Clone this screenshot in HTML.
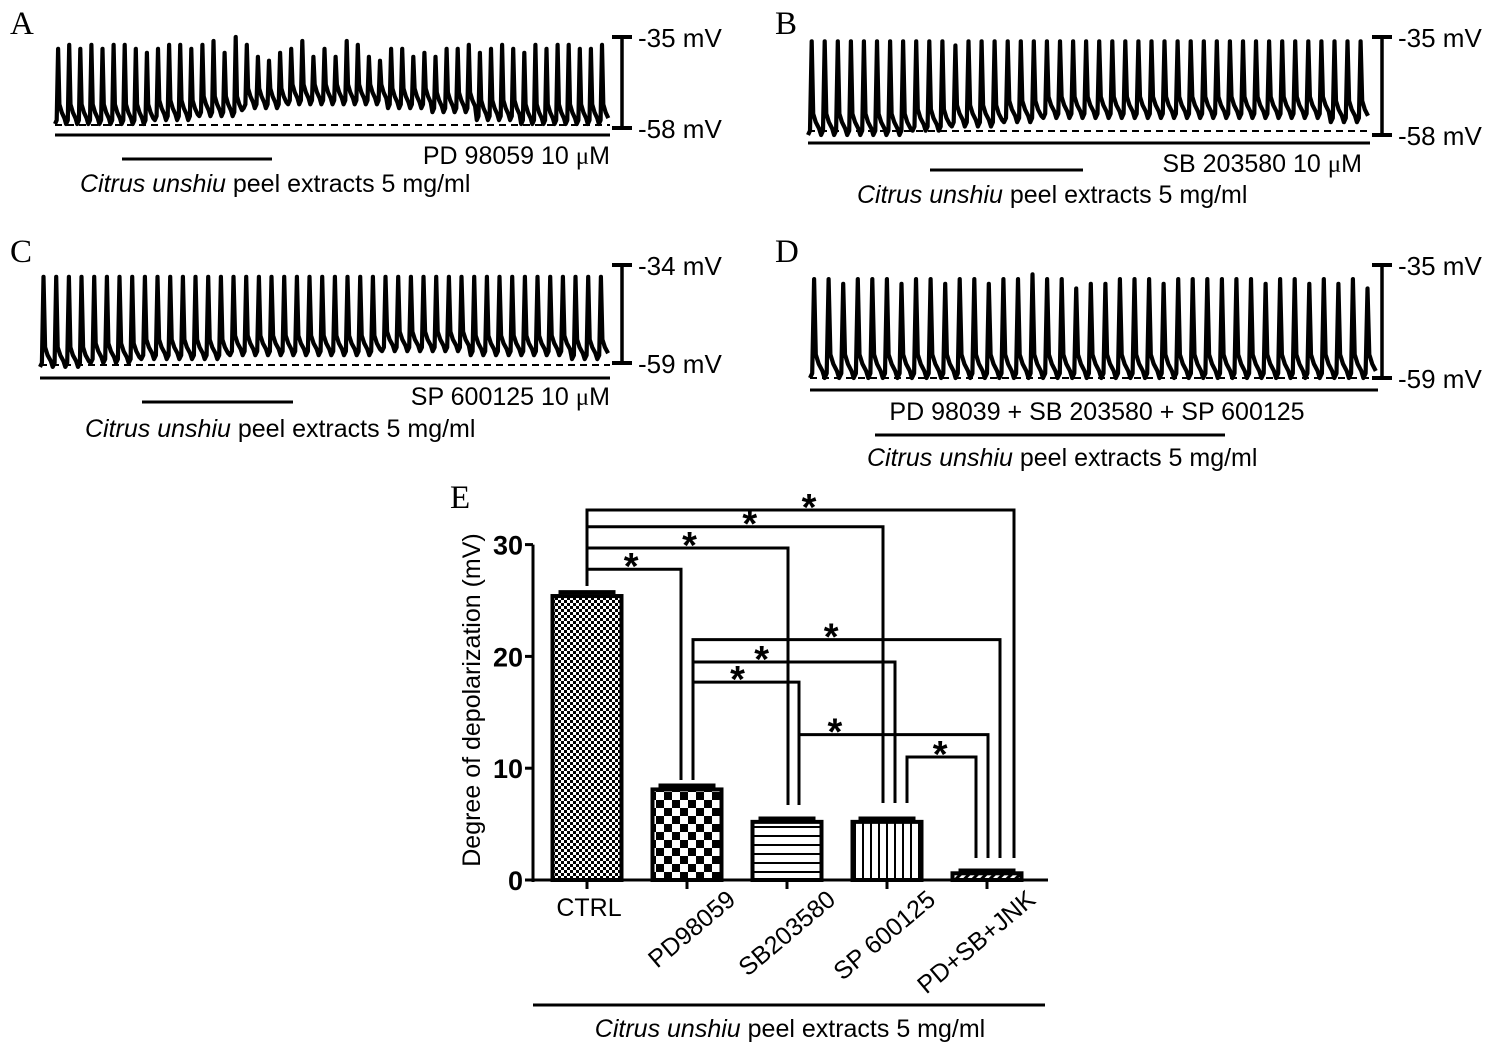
<!DOCTYPE html>
<html><head><meta charset="utf-8"><style>
body{margin:0;background:#fff}
svg{display:block;font-family:"Liberation Sans",Arial,sans-serif}
.lbl{font-size:25px;fill:#000}
.ml{font-size:26px;fill:#000}
.pl{font-family:"Liberation Serif",serif;font-size:33px;fill:#000}
</style></head><body>
<svg id="fig" width="1494" height="1047" viewBox="0 0 1494 1047">
<defs>
<pattern id="pCtrl" width="6" height="6" patternUnits="userSpaceOnUse"><rect width="6" height="6" fill="#fff"/><rect width="3" height="3" fill="#000"/><rect x="3" y="3" width="3" height="3" fill="#000"/></pattern>
<pattern id="pPD" width="16" height="16" patternUnits="userSpaceOnUse"><rect width="16" height="16" fill="#fff"/><rect width="8" height="8" fill="#000"/><rect x="8" y="8" width="8" height="8" fill="#000"/></pattern>
<pattern id="pSB" width="8" height="9" patternUnits="userSpaceOnUse"><rect width="8" height="9" fill="#fff"/><rect y="7" width="8" height="2" fill="#000"/></pattern>
<pattern id="pSP" width="8" height="8" patternUnits="userSpaceOnUse"><rect width="8" height="8" fill="#fff"/><rect x="6" width="2" height="8" fill="#000"/></pattern>
<pattern id="pCmb" width="6" height="6" patternUnits="userSpaceOnUse" patternTransform="rotate(45)"><rect width="6" height="6" fill="#fff"/><rect width="3" height="6" fill="#000"/></pattern>
</defs>
<g id="traces"></g>
<g id="chart"></g>
</svg>
<script>
// ---- Bar chart data ----
const categories = ["CTRL","PD98059","SB203580","SP 600125","PD+SB+JNK"];
const means = [25.4, 8.1, 5.2, 5.2, 0.6];
const errors = [0.35, 0.35, 0.3, 0.3, 0.25];
const yTicks = [0,10,20,30];
// bracket pairs [from index, to index, height level]
const bracketFrom = [0,0,0,0,1,1,1,2,3];
const bracketTo   = [1,2,3,4,2,3,4,4,4];
const bracketLevel= [27.8,29.7,31.6,33.1,17.7,19.5,21.5,13.0,11.0];
// spike peaks for traces (mV)
const peaksA = [-38,-37,-38,-37,-38,-37,-37,-38,-39,-38,-37,-37,-38,-37,-36,-39,-35,-37,-40,-41,-39,-38,-36,-40,-38,-40,-36,-37,-40,-41,-38,-38,-40,-39,-40,-38,-38,-37,-39,-38,-37,-38,-39,-37,-38,-37,-37,-38,-38,-37];
const peaksB = [-36,-36,-36,-36,-36,-36,-36,-36,-36,-36,-36,-37,-36,-36,-36,-36,-36,-36,-36,-36,-36,-36,-36,-36,-36,-36,-36,-36,-36,-36,-36,-36,-36,-36,-36,-36,-36,-36,-36,-36,-36,-36,-36];
const peaksC = [-37,-37,-37,-37,-37,-37,-37,-37,-37,-37,-37,-37,-37,-37,-37,-37,-37,-37,-37,-37,-37,-37,-37,-37,-37,-37,-37,-37,-37,-37,-37,-37,-37,-37,-37,-37,-37,-37,-37,-37,-37,-37,-37,-37,-37];
const peaksD = [-38,-38,-39,-38,-38,-38,-39,-38,-38,-39,-38,-38,-39,-38,-38,-37,-38,-38,-40,-39,-39,-38,-38,-38,-39,-38,-38,-38,-38,-38,-38,-39,-38,-38,-39,-38,-39,-38,-40];

const NS="http://www.w3.org/2000/svg";
function mk(parent,tag,attrs,name,inter){const e=document.createElementNS(NS,tag);for(const k in attrs)e.setAttribute(k,attrs[k]);


parent.appendChild(e);return e;}
function txt(parent,x,y,s,attrs,name){const t=mk(parent,'text',Object.assign({x:x,y:y},attrs||{}),name,false);t.innerHTML=s;return t;}

// ---- traces ----
const T=document.getElementById('traces');
const panels=[
 {id:'A',peaks:peaksA,x0:55,x1:610,top:-35,bot:-58,yTop:37,yBot:128,dash:125,solid:135,barX:622,lab:'A',labX:10,labY:34,
  drug:'PD 98059 10 <tspan font-family="Liberation Serif">μ</tspan>M',drugX:610,drugY:164,exX1:122,exX2:272,exY:159,capX:80,capY:192,base:[-54,-54,-53,-52,-50,-49,-49,-50,-51,-53,-54,-54], drugCenter:false},
 {id:'B',peaks:peaksB,x0:808,x1:1370,top:-35,bot:-58,yTop:37,yBot:135,dash:131,solid:143,barX:1382,lab:'B',labX:775,labY:34,
  drug:'SB 203580 10 <tspan font-family="Liberation Serif">μ</tspan>M',drugX:1362,drugY:172,exX1:930,exX2:1083,exY:170,capX:857,capY:203,base:[-55,-55,-54,-53,-52,-51,-51,-51,-51,-51,-51,-52], drugCenter:false},
 {id:'C',peaks:peaksC,x0:40,x1:610,top:-34,bot:-59,yTop:265,yBot:363,dash:365,solid:378,barX:622,lab:'C',labX:10,labY:262,
  drug:'SP 600125 10 <tspan font-family="Liberation Serif">μ</tspan>M',drugX:610,drugY:405,exX1:142,exX2:293,exY:402,capX:85,capY:437,base:[-57,-56,-55,-55,-54,-54,-54,-53,-53,-54,-54,-55], drugCenter:false},
 {id:'D',peaks:peaksD,x0:810,x1:1378,top:-35,bot:-59,yTop:265,yBot:378,dash:378,solid:390,barX:1382,lab:'D',labX:775,labY:262,
  drug:'PD 98039 + SB 203580 + SP 600125',drugX:1097,drugY:420,exX1:875,exX2:1225,exY:435,capX:867,capY:466,base:[-56,-56,-56,-56,-56,-56,-56,-56,-56,-56,-56,-56], drugCenter:true}
];
panels.forEach(p=>{
 const g=mk(T,'g',{},'panel-'+p.id.toLowerCase(),false);
 const ys=v=>p.yTop+(p.top-v)/(p.top-p.bot)*(p.yBot-p.yTop);
 const n=p.peaks.length, w=(p.x1-p.x0)/n;
 let d='';
 for(let i=0;i<n;i++){
  const bi=Math.min(p.base.length-1,Math.floor(i/n*p.base.length));
  const b=p.base[bi];
  const x=p.x0+i*w;
  d+=(i?'L':'M')+x.toFixed(1)+','+ys(b-3).toFixed(1)+' L'+(x+w*0.15).toFixed(1)+','+ys(b-2).toFixed(1)+' L'+(x+w*0.28).toFixed(1)+','+ys(p.peaks[i]).toFixed(1)+' L'+(x+w*0.4).toFixed(1)+','+ys(b+2).toFixed(1)+' L'+(x+w*0.6).toFixed(1)+','+ys(b).toFixed(1)+' L'+(x+w*0.85).toFixed(1)+','+ys(b-1.5).toFixed(1)+' ';
 }
 mk(g,'path',{d:d,fill:'none',stroke:'#000','stroke-width':4.2,'stroke-linejoin':'round'},'trace-'+p.id.toLowerCase(),false);
 mk(g,'line',{x1:p.x0,x2:p.x1,y1:p.dash,y2:p.dash,stroke:'#000','stroke-width':2,'stroke-dasharray':'7,5'},'baseline-dashed',false);
 mk(g,'line',{x1:p.x0,x2:p.x1,y1:p.solid,y2:p.solid,stroke:'#000','stroke-width':3},'inhibitor-bar',false);
 mk(g,'line',{x1:p.barX,x2:p.barX,y1:p.yTop,y2:p.yBot,stroke:'#000','stroke-width':3.5},'scale-bar',false);
 mk(g,'line',{x1:p.barX-10,x2:p.barX+10,y1:p.yTop,y2:p.yTop,stroke:'#000','stroke-width':4},'scale-top',false);
 mk(g,'line',{x1:p.barX-10,x2:p.barX+10,y1:p.yBot,y2:p.yBot,stroke:'#000','stroke-width':4},'scale-bottom',false);
 txt(g,p.barX+16,p.yTop+10,p.top+' mV',{class:'ml'},'scale-top-label');
 txt(g,p.barX+16,p.yBot+10,p.bot+' mV',{class:'ml'},'scale-bottom-label');
 txt(g,p.labX,p.labY,p.lab,{class:'pl'},'panel-label');
 txt(g,p.drugX,p.drugY,p.drug,{class:'lbl','text-anchor':p.drugCenter?'middle':'end'},'drug-label');
 mk(g,'line',{x1:p.exX1,x2:p.exX2,y1:p.exY,y2:p.exY,stroke:'#000','stroke-width':3},'extract-bar',false);
 txt(g,p.capX,p.capY,'<tspan font-style="italic">Citrus unshiu</tspan> peel extracts 5 mg/ml',{class:'lbl'},'extract-label');
});

// ---- bar chart ----
const C=document.getElementById('chart');
const axX=533, y0=880, pxPer=11.18, xEnd=1048;
const ys=v=>y0-v*pxPer;
const xc=i=>587+i*100;
const barW=69;
const fills=['url(#pCtrl)','url(#pPD)','url(#pSB)','url(#pSP)','url(#pCmb)'];
txt(C,450,508,'E',{class:'pl'},'panel-label-e');
mk(C,'line',{x1:axX,x2:axX,y1:ys(30),y2:y0+2,stroke:'#000','stroke-width':3},'y-axis',false);
mk(C,'line',{x1:axX,x2:xEnd,y1:y0,y2:y0,stroke:'#000','stroke-width':3},'x-axis',false);
yTicks.forEach(t=>{
 mk(C,'line',{x1:axX-8,x2:axX,y1:ys(t),y2:ys(t),stroke:'#000','stroke-width':3},'y-tick',false);
 txt(C,axX-10,ys(t)+10,t,{'font-size':27,'font-weight':'bold','text-anchor':'end'},'y-tick-label');
});
txt(C,0,0,'Degree of depolarization (mV)',{'font-size':25,'text-anchor':'middle',transform:'translate(480,700) rotate(-90)'},'y-axis-title');
categories.forEach((c,i)=>{
 const h=means[i]*pxPer;
 mk(C,'rect',{x:xc(i)-barW/2,y:ys(means[i]),width:barW,height:h,fill:fills[i],stroke:'#000','stroke-width':4},'bar-'+i,false);
 mk(C,'line',{x1:xc(i)-barW/2+6,x2:xc(i)+barW/2-6,y1:ys(means[i]+errors[i]),y2:ys(means[i]+errors[i]),stroke:'#000','stroke-width':4},'error-bar',false);
 mk(C,'line',{x1:xc(i),x2:xc(i),y1:y0,y2:y0+9,stroke:'#000','stroke-width':3},'x-tick',false);
 if(i===0) txt(C,xc(i)+2,y0+36,c,{'font-size':25,'text-anchor':'middle'},'x-tick-label');
 else txt(C,0,0,c,{'font-size':25,'text-anchor':'end',transform:'translate('+(xc(i)+50)+','+(y0+22)+') rotate(-40)'},'x-tick-label');
});
const legBot=[y0-means[0]*pxPer-10,780,805,803,858];
const starFrac=[0.47,0.51,0.55,0.52,0.42,0.34,0.45,0.19,0.48];
for(let k=0;k<bracketFrom.length;k++){
 const a=bracketFrom[k],b=bracketTo[k],yy=ys(bracketLevel[k]);
 const xa=xc(a)+(a===0?0:(a===1?6:(a===2?12:20))), xb=xc(b)+(b===1?-6:(b===2?(a===0?1:12):(b===3?(a===0?-4:8):(a===0?27:(a===1?13:(a===2?1:-11))))));
 const g=mk(C,'g',{},'significance-bracket',false);
 mk(g,'polyline',{points:xa+','+legBot[a]+' '+xa+','+yy+' '+xb+','+yy+' '+xb+','+legBot[b],fill:'none',stroke:'#000','stroke-width':3},'bracket-line',false);
 txt(g,xa+(xb-xa)*starFrac[k],yy+10,'*',{'font-size':38,'font-weight':'bold','text-anchor':'middle'},'significance-star');
}
mk(C,'line',{x1:533,x2:1045,y1:1005,y2:1005,stroke:'#000','stroke-width':3},'extract-bar',false);
txt(C,790,1037,'<tspan font-style="italic">Citrus unshiu</tspan> peel extracts 5 mg/ml',{class:'lbl','text-anchor':'middle'},'extract-label');
</script>
</body></html>
